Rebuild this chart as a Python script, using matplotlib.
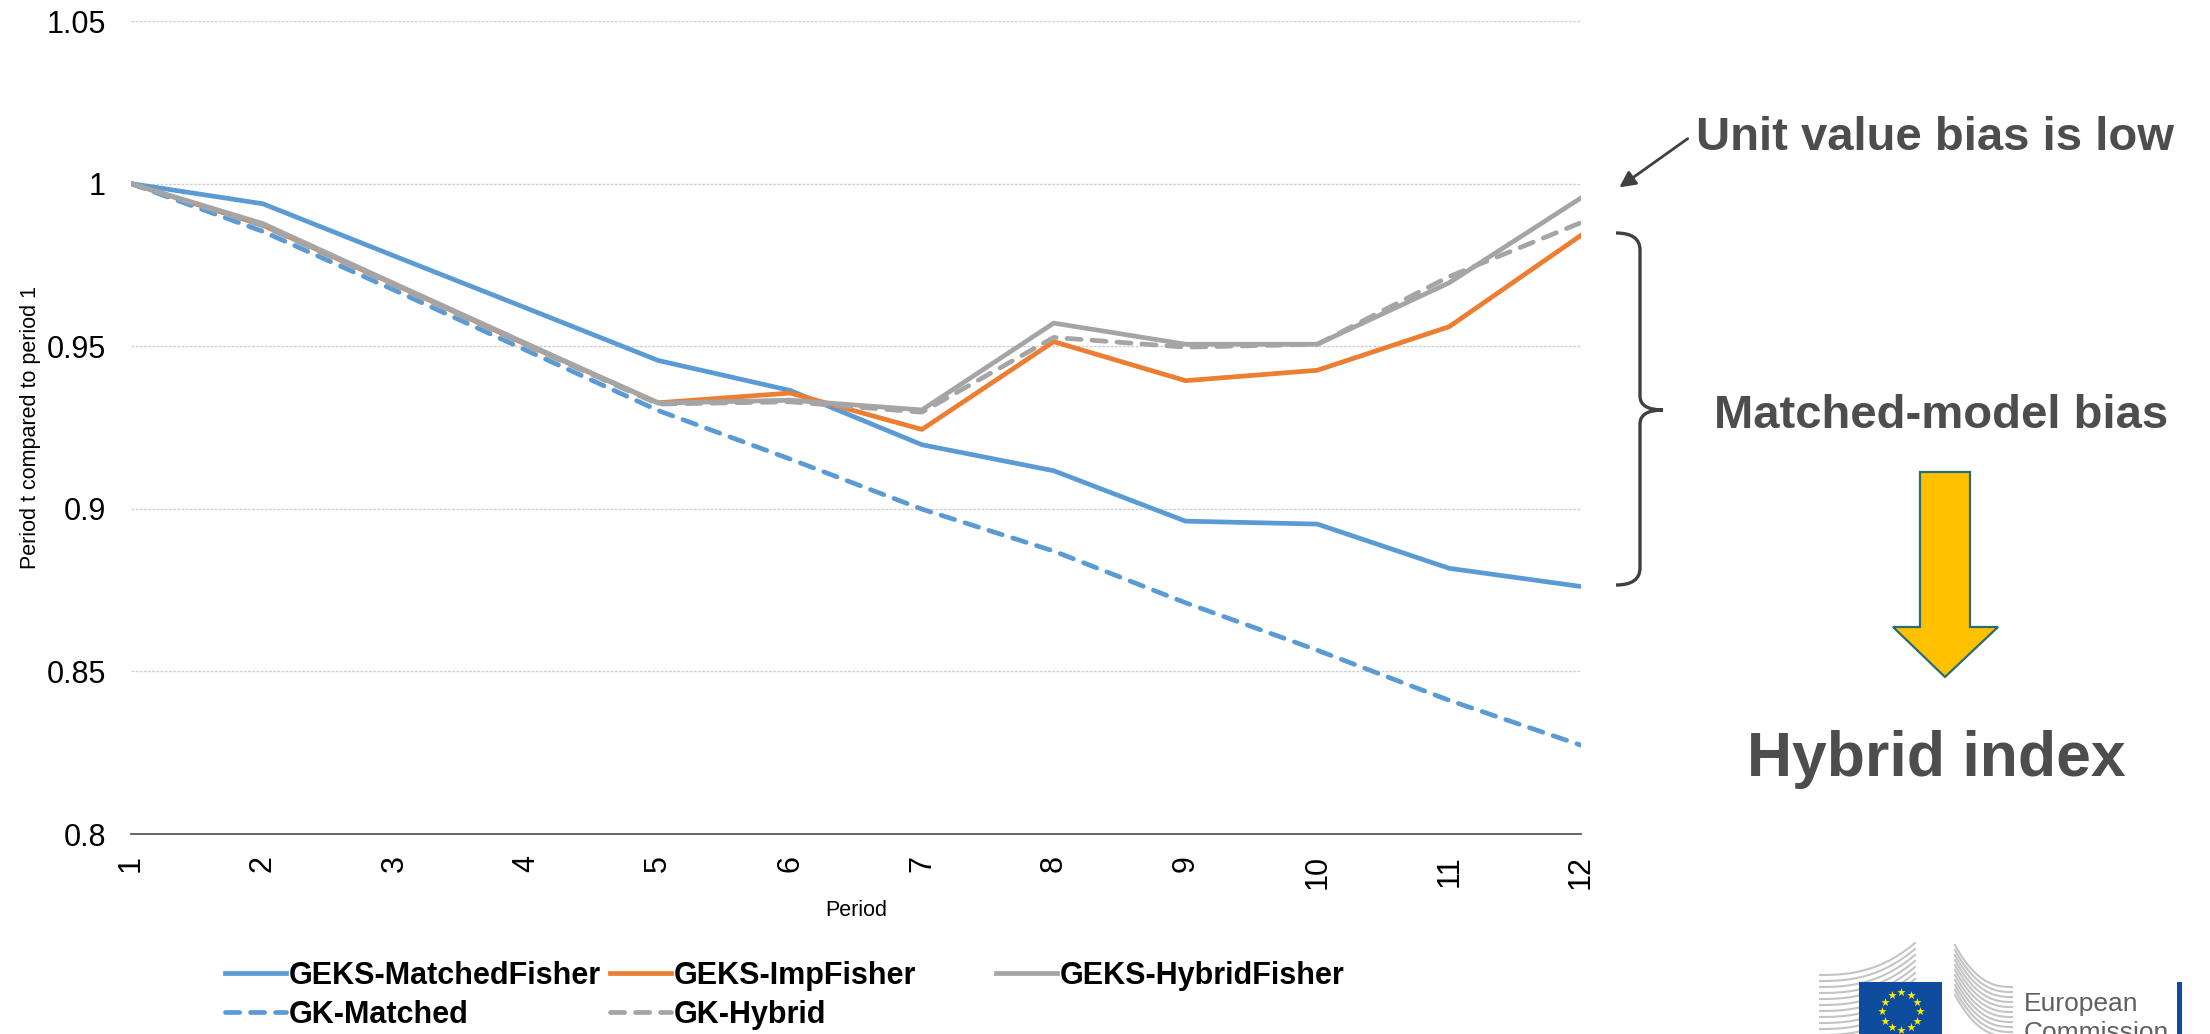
import numpy as np
import matplotlib.pyplot as plt
from matplotlib.path import Path
from matplotlib.patches import PathPatch, Polygon, Rectangle

plt.rcParams['font.family'] = ['Liberation Sans', 'DejaVu Sans']

periods = list(range(1, 13))
geks_matched_fisher = [1.0, 0.9938, 0.9777, 0.9617, 0.9456, 0.9364, 0.9197, 0.9117, 0.8962, 0.8953, 0.8817, 0.8761]
geks_imp_fisher = [1.0, 0.9872, 0.9690, 0.9505, 0.9326, 0.9356, 0.9244, 0.9514, 0.9394, 0.9426, 0.9560, 0.9841]
geks_hybrid_fisher = [1.0, 0.9877, 0.9692, 0.9508, 0.9325, 0.9334, 0.9304, 0.9571, 0.9506, 0.9506, 0.9695, 0.9956]
gk_matched = [1.0, 0.9853, 0.9672, 0.9487, 0.9302, 0.9153, 0.8999, 0.8870, 0.8711, 0.8565, 0.8411, 0.8273]
gk_hybrid = [1.0, 0.9870, 0.9686, 0.9502, 0.9322, 0.9329, 0.9297, 0.9527, 0.9497, 0.9506, 0.9714, 0.9880]

y_ticks = [0.8, 0.85, 0.9, 0.95, 1.0, 1.05]
x_grid = [1, 4, 7, 10]

blue = '#5B9BD5'
orange = '#ED7D31'
grey = '#A5A5A5'
dark = '#4D4D4D'

W, H = 2210, 1034
fig = plt.figure(figsize=(W / 100, H / 100), dpi=100)
ax = fig.add_axes([131 / W, 1 - 834 / H, 1450 / W, 813 / H])

lw = 3.4
dash = dict(dashes=(3, 2.3), dash_capstyle='round')
l_mf, = ax.plot(periods, geks_matched_fisher, color=blue, lw=lw, label='GEKS-MatchedFisher')
l_imp, = ax.plot(periods, geks_imp_fisher, color=orange, lw=lw, label='GEKS-ImpFisher')
l_hyb, = ax.plot(periods, geks_hybrid_fisher, color=grey, lw=lw, label='GEKS-HybridFisher')
l_gkm, = ax.plot(periods, gk_matched, color=blue, lw=lw, label='GK-Matched', **dash)
l_gkh, = ax.plot(periods, gk_hybrid, color=grey, lw=lw, label='GK-Hybrid', **dash)

ax.set_xlim(1, 12)
ax.set_ylim(0.8, 1.05)
ax.set_xticks(periods)
ax.set_xticks(x_grid, minor=True)
ax.set_yticks(y_ticks)
ax.set_yticklabels(['{:g}'.format(v) for v in y_ticks])
ax.tick_params(axis='x', which='both', length=0, labelsize=22, rotation=90, pad=15)
ax.tick_params(axis='y', length=0, labelsize=22, pad=18)
ax.grid(axis='y', which='major', color='#D0D0D0', lw=1, ls=(0, (2, 1)))
ax.grid(axis='x', which='minor', color='#D0D0D0', lw=1, ls=(0, (2, 1)))
for s in ['top', 'right', 'left']:
    ax.spines[s].set_visible(False)
ax.spines['bottom'].set_color('#595959')
ax.spines['bottom'].set_linewidth(1.3)
ax.set_xlabel('Period', fontsize=15.5, labelpad=8)
ax.set_ylabel('Period t compared to period 1', fontsize=15.5, labelpad=4)

# legend laid out in three fixed columns
legend_cols = [([l_mf, l_gkm], 225), ([l_imp, l_gkh], 610), ([l_hyb], 996)]
for handles, x0 in legend_cols:
    fig.legend(handles=handles, labels=[h.get_label() for h in handles],
               loc='upper left', bbox_to_anchor=(x0 / W, 1 - 961 / H),
               frameon=False, prop=dict(weight='bold', size=22),
               handlelength=2.0, handletextpad=0.1, borderpad=0,
               borderaxespad=0, labelspacing=0.3)

# annotation layer in pixel coordinates
ov = fig.add_axes([0, 0, 1, 1])
ov.set_xlim(0, W)
ov.set_ylim(H, 0)
ov.axis('off')

ov.text(1696, 150, 'Unit value bias is low', fontsize=34, weight='bold',
        color=dark, ha='left', va='baseline')
ov.annotate('', xy=(1617, 189), xytext=(1690, 137),
            arrowprops=dict(arrowstyle='-|>', color='#404040', lw=2, mutation_scale=24))

verts = [(1616, 233), (1640, 233), (1640, 250), (1640, 396), (1640, 410), (1663, 410),
         (1640, 410), (1640, 424), (1640, 568), (1640, 585), (1616, 585)]
codes = [Path.MOVETO, Path.CURVE3, Path.CURVE3, Path.LINETO, Path.CURVE3, Path.CURVE3,
         Path.CURVE3, Path.CURVE3, Path.LINETO, Path.CURVE3, Path.CURVE3]
ov.add_patch(PathPatch(Path(verts, codes), fill=False, edgecolor='#404040', lw=2.4))

ov.text(1941, 428, 'Matched-model bias', fontsize=34, weight='bold',
        color=dark, ha='center', va='baseline')

ov.add_patch(Polygon([(1920, 472), (1970, 472), (1970, 627), (1998, 627), (1945, 677),
                      (1893, 627), (1920, 627)], closed=True,
                     facecolor='#FFC000', edgecolor='#2B6C70', lw=1.6))

ov.text(1936, 776, 'Hybrid index', fontsize=45, weight='bold',
        color=dark, ha='center', va='baseline')

# European Commission logo: two stylised buildings, flag, name
stripe = '#C4C4C4'
t = np.linspace(0, 1, 40)
for i in range(11):
    ov.plot(1820 + 95 * t, 975 + i * 6 - 32 * t ** 2.5, color=stripe, lw=1.5)
for i in range(11):
    ov.plot(1955 + 57 * t, 987 + i * 5 - 42 * (1 - t) ** 2.5, color=stripe, lw=1.5)
ov.add_patch(Rectangle((1859, 982), 83, 60, facecolor='#0F4C9E', edgecolor='none', zorder=3))
ang = np.linspace(0, 2 * np.pi, 12, endpoint=False)
ov.scatter(1901 + 19 * np.sin(ang), 1011 - 19 * np.cos(ang), marker='*', s=40,
           color='#FFED00', linewidths=0, zorder=4)
ov.add_patch(Rectangle((2015, 982), 160, 60, facecolor='white', edgecolor='none', zorder=3))
ov.text(2024, 1011, 'European', fontsize=19, color='#5F6062', ha='left', va='baseline', zorder=4)
ov.text(2024, 1040, 'Commission', fontsize=19, color='#5F6062', ha='left', va='baseline', zorder=4)
ov.add_patch(Rectangle((2177, 982), 5, 60, facecolor='#0F4C9E', edgecolor='none', zorder=4))

fig.savefig('out.png', dpi=100)
